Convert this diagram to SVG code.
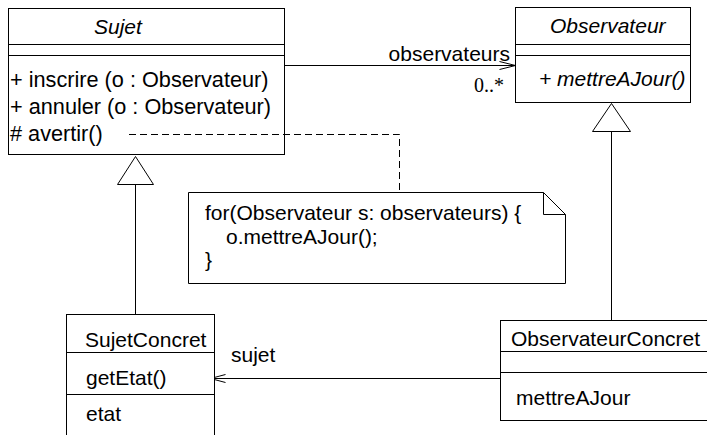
<svg xmlns="http://www.w3.org/2000/svg" width="707" height="435" viewBox="0 0 707 435">
<style>
.box{fill:#fff;stroke:#000;stroke-width:1}
.ln{fill:none;stroke:#000;stroke-width:1}
.dash{fill:none;stroke:#000;stroke-width:1;stroke-dasharray:7 4}
text{font-family:"Liberation Sans",Arial,Helvetica,sans-serif;font-size:21px;fill:#000}
.it{font-style:italic}
.m{font-size:21.7px}
.ser{font-family:"Liberation Serif","Times New Roman",serif;font-size:20px}
</style>
<rect width="707" height="435" fill="#fff"/>
<g id="connectors">
<path class="ln" d="M284.5 65.5H515.5M499.5 61.5L515.5 65.5L499.5 69.5"/>
<path class="ln" d="M135.5 184.5V314.5"/>
<polygon class="box" points="135.5,156.5 117.5,184.5 153.5,184.5"/>
<path class="ln" d="M611.5 131.5V320.5"/>
<polygon class="box" points="611.5,103.5 592.5,131.5 630.5,131.5"/>
<path class="ln" d="M500.5 378.5H210.5M225.5 374.5L210.5 378.5L225.5 382.5"/>
<path class="dash" d="M129 134.5H399.5V192"/>
<text x="510" y="61" text-anchor="end">observateurs</text>
<text class="ser" x="474" y="92">0..*</text>
<text x="231" y="362">sujet</text>
</g>
<g id="sujet">
<rect class="box" x="8.5" y="8.5" width="276" height="146" style="fill:none"/>
<path class="ln" d="M8.5 44.5H284.5M8.5 55.5H284.5"/>
<text class="it" x="94" y="34">Sujet</text>
<text class="m" x="10" y="87">+ inscrire (o : Observateur)</text>
<text class="m" x="10" y="114">+ annuler (o : Observateur)</text>
<text class="m" x="10" y="141"># avertir()</text>
</g>
<g id="observateur">
<rect class="box" x="515.5" y="7.5" width="175" height="95"/>
<path class="ln" d="M515.5 44.5H690.5M515.5 55.5H690.5"/>
<text class="it" x="550" y="33">Observateur</text>
<text class="it" x="539" y="86">+ mettreAJour()</text>
</g>
<g id="note">
<path class="box" d="M188.5 192.5H543.5L565.5 214.5V283.5H188.5Z"/>
<path class="ln" d="M543.5 192.5V214.5H565.5"/>
<text x="205" y="220">for(Observateur s: observateurs) {</text>
<text x="226" y="244">o.mettreAJour();</text>
<text x="205" y="267">}</text>
</g>
<g id="sujetconcret">
<rect class="box" x="66.5" y="314.5" width="148" height="130"/>
<path class="ln" d="M66.5 352.5H214.5M66.5 394.5H214.5"/>
<text x="85" y="347">SujetConcret</text>
<text x="86" y="385">getEtat()</text>
<text x="86" y="421">etat</text>
</g>
<g id="observateurconcret">
<rect class="box" x="500.5" y="320.5" width="220" height="100"/>
<path class="ln" d="M500.5 351.5H720M500.5 372.5H720"/>
<text x="511" y="346">ObservateurConcret</text>
<text x="516" y="405">mettreAJour</text>
</g>
</svg>
